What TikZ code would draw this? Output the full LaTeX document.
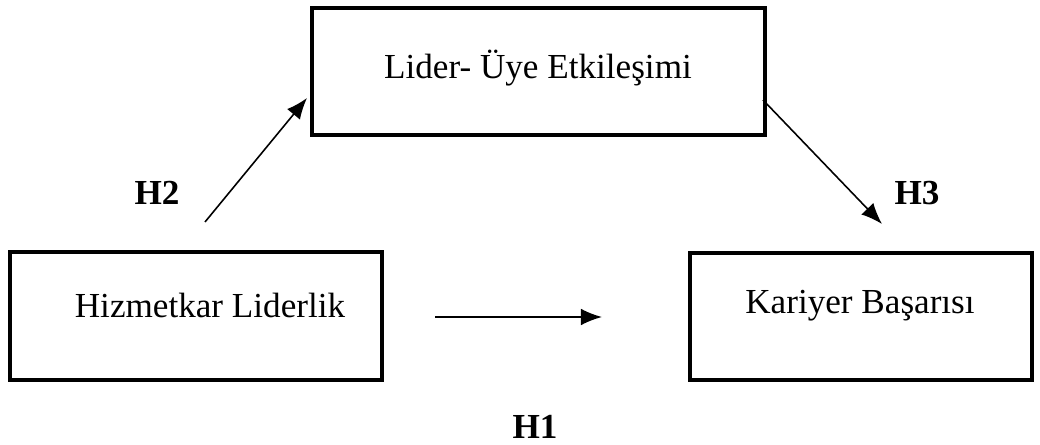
\documentclass[tikz,border=0pt]{standalone}
\usepackage{fontspec}
\setmainfont{Liberation Serif}
\usetikzlibrary{arrows.meta}
\tikzset{
  kutu/.style={draw, line width=2.5pt, inner sep=0pt},
  ok/.style={line width=0.9pt, -{Latex[length=12pt,width=9.5pt]}},
  hip/.style={font=\fontsize{20}{24}\selectfont\bfseries},
  yazi/.style={font=\fontsize{20}{24}\selectfont}
}
\begin{document}
\begin{tikzpicture}[x=0.02cm, y=-0.02cm]
\useasboundingbox (0,0) rectangle (1040,445);
% kutular
\node[kutu, minimum width=453*0.02cm, minimum height=127*0.02cm] (lmx) at (538.5,71.5) {};
\node[kutu, minimum width=372*0.02cm, minimum height=128*0.02cm] (hl) at (196,316) {};
\node[kutu, minimum width=342*0.02cm, minimum height=127*0.02cm] (kb) at (861,316.5) {};
\node[yazi] (lmxt) at (538,68) {Lider- Üye Etkileşimi};
\node[yazi] (hlt) at (210,305) {Hizmetkar Liderlik};
\node[yazi] (kbt) at (860,306) {Kariyer Başarısı};
% oklar
\coordinate (a1) at (205,222); \coordinate (a2) at (307,98);
\coordinate (b1) at (763,100); \coordinate (b2) at (882,224);
\coordinate (c1) at (435,317); \coordinate (c2) at (602,317);
\draw[ok] (a1) -- (a2);
\draw[ok] (b1) -- (b2);
\draw[ok] (c1) -- (c2);
% hipotezler
\node[hip] (h2) at (157,193) {H2};
\node[hip] (h3) at (917,193) {H3};
\node[hip] (h1) at (535,427) {H1};
\end{tikzpicture}
\end{document}
